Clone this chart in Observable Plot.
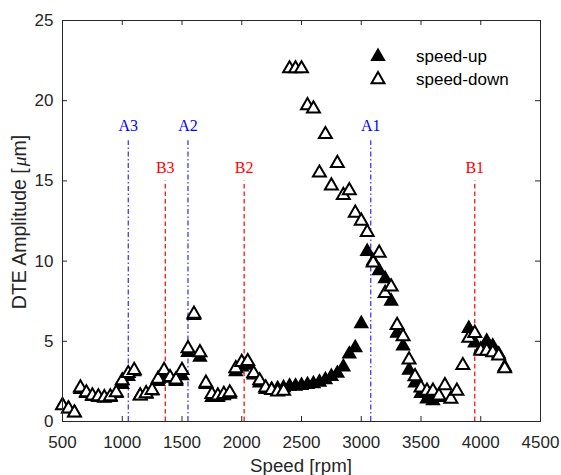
<!DOCTYPE html>
<html>
<head>
<meta charset="utf-8">
<script src="https://cdn.jsdelivr.net/npm/d3@7"></script>
<script src="https://cdn.jsdelivr.net/npm/@observablehq/plot@0.6"></script>
<style>
  html, body { margin: 0; padding: 0; background: white; }
  #wrap { position: relative; width: 561px; height: 475px; }
  #legend { position: absolute; left: 368px; top: 45px; font-family: "Liberation Sans", Arial, sans-serif; font-size: 17px; color: #000; }
  #legend .row { display: flex; align-items: center; height: 23.5px; }
  #legend svg { width: 30px; height: 20px; margin-right: 18px; }
</style>
</head>
<body>
<div id="wrap"><div id="legend"></div></div>
<script>
// ---- data ----
const downRpm = [500,550,600,650,700,750,800,850,900,950,1000,1050,1100,1150,1200,1250,1300,1350,1400,1450,1500,1550,1600,1650,1700,1750,1800,1850,1900,1950,2000,2050,2100,2150,2200,2250,2300,2350,2400,2450,2500,2550,2600,2650,2700,2750,2800,2850,2900,2950,3000,3050,3100,3150,3200,3250,3300,3350,3400,3450,3500,3550,3600,3650,3700,3750,3800,3850,3900,3950,4000,4050,4100,4150,4200];
const downAmp = [1.0,0.8,0.55,2.1,1.8,1.6,1.55,1.5,1.55,1.8,2.55,3.0,3.2,1.6,1.75,1.95,2.65,3.2,2.75,2.6,3.2,4.55,6.7,4.3,2.4,1.7,1.6,1.7,1.8,3.3,3.7,3.75,3.0,2.55,2.1,1.95,1.85,1.9,22.0,22.0,22.0,19.7,19.5,15.5,17.9,14.7,16.1,14.1,14.4,13.0,12.5,11.8,9.9,10.5,8.0,8.4,6.0,5.3,3.85,2.8,2.1,1.9,1.9,1.6,2.25,1.4,1.9,3.5,5.2,5.5,4.4,4.4,4.3,4.1,3.3];
const upRpm = [500,550,600,650,700,750,800,850,900,950,1000,1050,1100,1150,1200,1250,1300,1350,1400,1450,1500,1550,1600,1650,1700,1750,1800,1850,1900,1950,2000,2050,2100,2150,2200,2250,2300,2350,2400,2450,2500,2550,2600,2650,2700,2750,2800,2850,2900,2950,3000,3050,3100,3150,3200,3250,3300,3350,3400,3450,3500,3550,3600,3650,3900,3950,4000,4050,4100,4150,4200];
const upAmp = [1.0,0.8,0.55,2.0,1.75,1.55,1.5,1.45,1.5,1.75,2.3,2.8,3.1,1.6,1.7,1.9,2.5,2.9,2.7,2.5,2.85,4.3,6.6,4.0,2.3,1.5,1.5,1.6,1.7,3.1,3.4,3.5,2.9,2.4,2.0,2.0,2.05,2.1,2.2,2.2,2.25,2.3,2.35,2.45,2.6,2.8,3.0,3.4,4.2,4.6,6.1,10.6,10.0,9.4,8.9,7.5,5.5,4.7,3.2,2.4,1.75,1.4,1.3,1.5,5.8,4.9,4.5,5.0,4.7,4.2,3.4];

const annoLabel = ["A3","A2","A1","B3","B2","B1"];
const annoRpm   = [1050,1550,3080,1360,2020,3950];
const annoTop   = [17.5,17.5,17.5,15,15,15];
const annoTextY = [18.4,18.4,18.4,15.8,15.8,15.8];
const annoColor = ["blue","blue","blue","red","red","red"];

const xTicks = [500,1000,1500,2000,2500,3000,3500,4000,4500];
const yTicks = [0,5,10,15,20,25];
const seriesNames = ["speed-up","speed-down"];
const xLabel = "Speed [rpm]";
const yLabelParts = ["DTE Amplitude [", "\u03BC", "m]"];

// ---- build tables ----
const down = downRpm.map((r,i) => ({rpm: r, amp: downAmp[i]}));
const up = upRpm.map((r,i) => ({rpm: r, amp: upAmp[i]}));
const anno = annoLabel.map((l,i) => ({label: l, rpm: annoRpm[i], top: annoTop[i], ty: annoTextY[i], color: annoColor[i]}));
const annoA = anno.filter(d => d.color === "blue");
const annoB = anno.filter(d => d.color === "red");

const axisColor = "#262626";
const H = 475, mT = 20, mB = 54, W = 561, mL = 62, mR = 21;
const plotH = H - mT - mB, plotW = W - mL - mR;
const tick = 5;

const chart = Plot.plot({
  width: W, height: H,
  marginLeft: mL, marginRight: mR, marginTop: mT, marginBottom: mB,
  style: {fontFamily: "'Liberation Sans', Arial, sans-serif", fontSize: "17px", color: axisColor, background: "white", overflow: "visible"},
  x: {domain: [500, 4500], ticks: xTicks, tickFormat: d => String(d), tickSize: 0, tickPadding: 14, label: null},
  y: {domain: [0, 25], ticks: yTicks, tickFormat: d => String(d), tickSize: 0, tickPadding: 9, label: null},
  marks: [
    Plot.ruleX(annoA, {x: "rpm", y1: 0, y2: "top", stroke: "blue", strokeWidth: 1, strokeDasharray: "5,2.5,1.5,2.5"}),
    Plot.ruleX(annoB, {x: "rpm", y1: 0, y2: "top", stroke: "red", strokeWidth: 1.2, strokeDasharray: "4.5,3"}),
    Plot.text(anno, {x: "rpm", y: "ty", text: "label", fill: "color", fontFamily: "'Liberation Serif', 'Times New Roman', serif", fontSize: 16}),
    Plot.dot(up, {x: "rpm", y: "amp", symbol: "triangle", r: 4.8, fill: "black", stroke: "black", strokeWidth: 1.5}),
    Plot.dot(down, {x: "rpm", y: "amp", symbol: "triangle", r: 4.8, fill: "white", stroke: "black", strokeWidth: 2}),
    Plot.ruleX(xTicks, {x: d => d, insetTop: plotH - tick, stroke: axisColor}),
    Plot.ruleX(xTicks, {x: d => d, insetBottom: plotH - tick, stroke: axisColor}),
    Plot.ruleY(yTicks, {y: d => d, insetRight: plotW - tick, stroke: axisColor}),
    Plot.ruleY(yTicks, {y: d => d, insetLeft: plotW - tick, stroke: axisColor}),
    Plot.frame({stroke: axisColor, strokeWidth: 1})
  ]
});

const svg = d3.select(chart);
svg.append("text")
  .attr("x", mL + plotW / 2).attr("y", 472)
  .attr("text-anchor", "middle").attr("fill", axisColor)
  .attr("font-family", "'Liberation Sans', Arial, sans-serif").attr("font-size", 18.7)
  .text(xLabel);
const yl = svg.append("text")
  .attr("transform", `translate(19,222) rotate(-90)`)
  .attr("dy", "0.35em")
  .attr("text-anchor", "middle").attr("fill", axisColor)
  .attr("font-family", "'Liberation Sans', Arial, sans-serif").attr("font-size", 19.5);
yl.append("tspan").text(yLabelParts[0]);
yl.append("tspan").attr("font-style", "italic").attr("font-family", "'Liberation Serif', serif").attr("dx", 2).text(yLabelParts[1]);
yl.append("tspan").text(yLabelParts[2]);

document.getElementById("wrap").prepend(chart);

// legend
const legend = document.getElementById("legend");
seriesNames.forEach((name, i) => {
  const row = document.createElement("div");
  row.className = "row";
  const s = d3.create("svg");
  s.append("path").attr("d", d3.symbol(d3.symbolTriangle, 4.8 * 4.8 * Math.PI)())
    .attr("transform", "translate(10,9.5)")
    .attr("fill", i === 0 ? "black" : "white").attr("stroke", "black").attr("stroke-width", i === 0 ? 1.5 : 2);
  row.appendChild(s.node());
  const t = document.createElement("span");
  t.textContent = name;
  row.appendChild(t);
  legend.appendChild(row);
});
</script>
</body>
</html>
